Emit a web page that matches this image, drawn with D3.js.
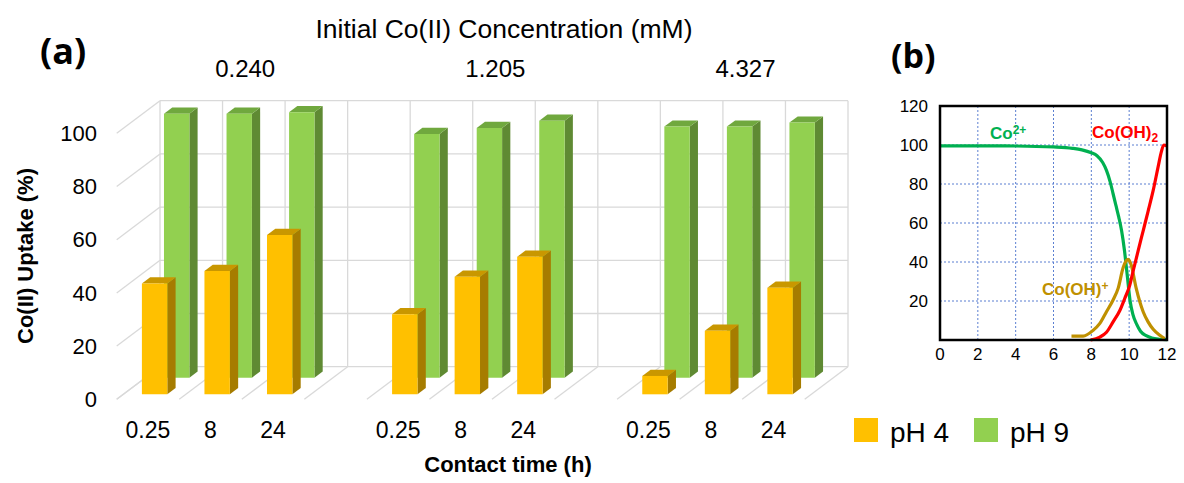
<!DOCTYPE html>
<html>
<head>
<meta charset="utf-8">
<script src="https://cdn.jsdelivr.net/npm/d3@7"></script>
<style>
  body { margin: 0; background: #fff; }
  text { font-family: "Liberation Sans", Arial, sans-serif; fill: #000; }
  .tag { font-family: "Open Sans", sans-serif; font-weight: 700; }
</style>
</head>
<body>
<svg id="chart" width="1184" height="483"></svg>
<script>
// ---- data, panel (a) ----
const concentrations = ['0.240', '1.205', '4.327']
const times = ['0.25', '8', '24']
const uptakePH4 = [[41.7, 46.4, 59.9], [30.1, 44.2, 51.7], [6.9, 23.9, 40.1]]
const uptakePH9 = [[99.2, 99.2, 99.8], [91.6, 93.9, 96.6], [94.4, 94.4, 95.9]]
const seriesNames = ['pH 4', 'pH 9']
const uptakeTicks = [0, 20, 40, 60, 80, 100]

// ---- data, panel (b): speciation vs pH ----
const co2Curve = [[0, 99.6], [2, 99.6], [4, 99.5], [6, 99], [7, 98.3], [7.5, 97.5], [8, 96], [8.3, 94.5],
  [8.6, 91], [8.8, 87], [9.0, 81], [9.15, 75], [9.3, 69], [9.45, 63], [9.6, 56], [9.75, 46], [9.9, 33],
  [10.05, 20], [10.2, 13], [10.4, 8], [10.6, 4.5], [10.9, 2.2], [11.2, 1], [11.6, 0.4], [12, 0.2]]
const cooh2Curve = [[7.96, 0], [8.45, 1.5], [8.8, 4], [9.15, 9.3], [9.5, 15], [9.77, 21.4], [10.03, 28],
  [10.2, 35], [10.47, 45.6], [10.74, 56], [11.0, 66], [11.27, 76.7], [11.53, 88.8], [11.7, 96.5],
  [11.83, 100], [12, 99.5]]
const coohCurve = [[6.95, 2], [7.57, 2], [8.1, 5], [8.45, 8.5], [8.8, 14.5], [9.15, 20.5], [9.42, 26.6],
  [9.68, 37], [9.86, 40.8], [9.95, 41.3], [10.1, 38.7], [10.37, 26.6], [10.74, 14.5], [11.0, 9.3],
  [11.27, 5.5], [11.62, 2.4], [11.88, 0.7]]
const phTicks = [0, 2, 4, 6, 8, 10, 12]
const fracTicks = [20, 40, 60, 80, 100, 120]

const svg = d3.select('#chart')

// ================= panel (a): 3D column chart =================
const depthDX = 43.3, depthDY = 32.6 // oblique offset of the back wall

// slots: 3 times per concentration, with an empty slot between groups
const slots = []
concentrations.forEach((c, gi) => {
  times.forEach(t => slots.push(c + '|' + t))
  if (gi < concentrations.length - 1) slots.push('gap' + gi)
})

const x = d3.scaleBand()
  .domain(slots)
  .range([116.7, 804.7])
  .paddingInner(0.594)
  .paddingOuter(0.297)
const slotStep = x.step()

const y = d3.scaleLinear().domain([0, 100]).range([399.3, 133.3])

const proj = (px, v, d) => [px + d * depthDX, y(v) - d * depthDY]
const poly = pts => 'M' + pts.map(p => p.join(',')).join('L') + 'Z'

const grid = svg.append('g').attr('stroke', '#d9d9d9').attr('stroke-width', 1.3).attr('fill', 'none')
const x0 = x.range()[0], x1 = x.range()[1]

// back wall horizontal gridlines + left wall diagonals
uptakeTicks.forEach(v => {
  grid.append('path').attr('d', 'M' + proj(x0, v, 1) + 'L' + proj(x1, v, 1))
  grid.append('path').attr('d', 'M' + proj(x0, v, 0) + 'L' + proj(x0, v, 1))
})
// back wall verticals + floor diagonals at slot boundaries
d3.range(slots.length + 1).forEach(i => {
  const bx = x0 + i * slotStep
  grid.append('path').attr('d', 'M' + proj(bx, 0, 1) + 'L' + proj(bx, 100, 1))
  grid.append('path').attr('d', 'M' + proj(bx, 0, 0) + 'L' + proj(bx, 0, 1))
})

const seriesStyle = [
  { name: seriesNames[0], data: uptakePH4, d0: 0.153, d1: 0.345, front: '#ffc000', side: '#a67c00', top: '#c99700' },
  { name: seriesNames[1], data: uptakePH9, d0: 0.663, d1: 0.853, front: '#92d050', side: '#5f8a33', top: '#70a83e' }
]

// draw the back row first so the front row covers it
seriesStyle.slice().reverse().forEach(s => {
  const g = svg.append('g')
  concentrations.forEach((c, gi) => {
    times.forEach((t, ti) => {
      const v = s.data[gi][ti]
      const xl = x(c + '|' + t), xr = xl + x.bandwidth()
      g.append('path').attr('fill', s.side)
        .attr('d', poly([proj(xr, 0, s.d0), proj(xr, v, s.d0), proj(xr, v, s.d1), proj(xr, 0, s.d1)]))
      g.append('path').attr('fill', s.top)
        .attr('d', poly([proj(xl, v, s.d0), proj(xr, v, s.d0), proj(xr, v, s.d1), proj(xl, v, s.d1)]))
      g.append('path').attr('fill', s.front)
        .attr('d', poly([proj(xl, 0, s.d0), proj(xr, 0, s.d0), proj(xr, v, s.d0), proj(xl, v, s.d0)]))
    })
  })
})

// value axis labels (front plane)
svg.append('g').selectAll('text').data(uptakeTicks).join('text')
  .attr('x', 97).attr('y', d => y(d)).attr('dy', '0.35em')
  .attr('text-anchor', 'end').style('font-size', '22px')
  .text(d => d)

// category labels
svg.append('g').selectAll('text').data(slots.filter(k => k.indexOf('|') > 0)).join('text')
  .attr('x', k => x(k) + x.bandwidth() / 2).attr('y', 438)
  .attr('text-anchor', 'middle').style('font-size', '23px')
  .text(k => k.split('|')[1])

// concentration labels above groups
svg.append('g').selectAll('text').data(concentrations).join('text')
  .attr('x', c => proj(x(c + '|' + times[1]) + x.bandwidth() / 2, 0, 0.8)[0])
  .attr('y', 77).attr('text-anchor', 'middle').style('font-size', '24px')
  .text(c => c)

svg.append('text').attr('x', 504).attr('y', 38).attr('text-anchor', 'middle')
  .style('font-size', '26.5px').text('Initial Co(II) Concentration (mM)')

svg.append('text').attr('transform', 'translate(33,256) rotate(-90)').attr('text-anchor', 'middle')
  .style('font-size', '22px').style('font-weight', 'bold').text('Co(II) Uptake (%)')

svg.append('text').attr('x', 508).attr('y', 472).attr('text-anchor', 'middle')
  .style('font-size', '22px').style('font-weight', 'bold').text('Contact time (h)')

svg.append('text').attr('class', 'tag').attr('x', 40).attr('y', 64).style('font-size', '36px').text('(a)')

// legend
const legend = svg.append('g').selectAll('g').data(seriesStyle).join('g')
  .attr('transform', (d, i) => 'translate(' + (854 + i * 120) + ',418)')
legend.append('rect').attr('width', 24).attr('height', 24).attr('fill', d => d.front)
legend.append('text').attr('x', 36).attr('y', 23.5).style('font-size', '28px').text(d => d.name)

// ================= panel (b): speciation diagram =================
const px = d3.scaleLinear().domain([0, 12]).range([940, 1167])
const py = d3.scaleLinear().domain([0, 120]).range([340, 106])

const bgrid = svg.append('g').attr('stroke', '#5b7fd1').attr('stroke-width', 1)
  .attr('stroke-dasharray', '2,2').attr('fill', 'none')
phTicks.slice(1, -1).forEach(t => {
  bgrid.append('line').attr('x1', px(t)).attr('x2', px(t)).attr('y1', py(0)).attr('y2', py(120))
})
fracTicks.slice(0, -1).forEach(t => {
  bgrid.append('line').attr('x1', px(0)).attr('x2', px(12)).attr('y1', py(t)).attr('y2', py(t))
})

const line = d3.line().x(d => px(d[0])).y(d => py(d[1])).curve(d3.curveMonotoneX)
const curves = [
  { data: co2Curve, color: '#00b050' },
  { data: coohCurve, color: '#bf9000' },
  { data: cooh2Curve, color: '#ff0000' }
]
svg.append('g').selectAll('path').data(curves).join('path')
  .attr('d', d => line(d.data)).attr('fill', 'none')
  .attr('stroke', d => d.color).attr('stroke-width', 3.2).attr('stroke-linejoin', 'round')

svg.append('rect').attr('x', px(0)).attr('y', py(120))
  .attr('width', px(12) - px(0)).attr('height', py(0) - py(120))
  .attr('fill', 'none').attr('stroke', '#000').attr('stroke-width', 2.5)

svg.append('g').selectAll('text').data(phTicks).join('text')
  .attr('x', d => px(d)).attr('y', 360).attr('text-anchor', 'middle')
  .style('font-size', '17px').text(d => d)
svg.append('g').selectAll('text').data(fracTicks).join('text')
  .attr('x', 928).attr('y', d => py(d)).attr('dy', '0.35em').attr('text-anchor', 'end')
  .style('font-size', '17px').text(d => d)

const specLabel = (xx, yy, color, base, sup, sub) => {
  const t = svg.append('text').attr('x', xx).attr('y', yy)
    .style('font-size', '17px').style('font-weight', 'bold').style('fill', color)
  t.append('tspan').text(base)
  if (sup) t.append('tspan').attr('dy', '-0.45em').style('font-size', '12px').text(sup)
  if (sub) t.append('tspan').attr('dy', '0.3em').style('font-size', '12px').text(sub)
}
specLabel(990, 139, '#00b050', 'Co', '2+')
specLabel(1092, 138, '#ff0000', 'Co(OH)', null, '2')
specLabel(1042, 295, '#bf9000', 'Co(OH)', '+')

svg.append('text').attr('class', 'tag').attr('x', 891).attr('y', 68).style('font-size', '34px').text('(b)')
</script>
</body>
</html>
